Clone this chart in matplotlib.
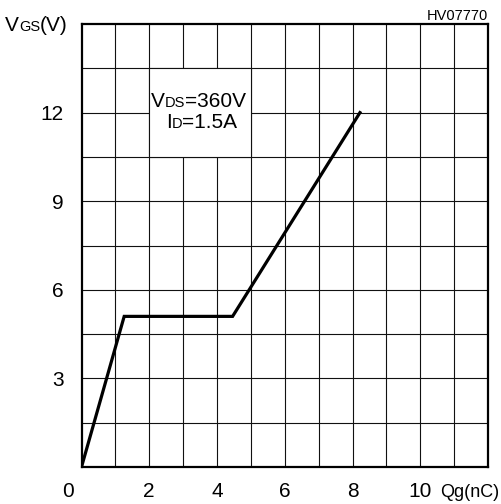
import numpy as np
import matplotlib
matplotlib.use("Agg")
import matplotlib.pyplot as plt
from matplotlib.patches import Rectangle

plt.rcParams['font.family'] = ['Liberation Sans', 'DejaVu Sans']

# ── 数据：栅极电荷曲线 ─────────────────────────────
qg_nc = [0, 1.26, 4.46, 8.22]
vgs_v = [0, 5.1, 5.1, 12.0]

x_ticks = [2, 4, 6, 8, 10]
y_ticks = [3, 6, 9, 12]

W, H = 501, 504
fig = plt.figure(figsize=(W / 100, H / 100), dpi=100)
ax = fig.add_axes([81.5 / W, 1 - 467 / H, (488 - 81.5) / W, (467 - 24) / H])

ax.set_xlim(0, 12)
ax.set_ylim(0, 15)

# 网格
for gx in np.arange(1, 12):
    ax.axvline(gx, color='#111111', lw=0.8, zorder=1)
for gy in np.arange(1.5, 15, 1.5):
    ax.axhline(gy, color='#111111', lw=0.8, zorder=1)

# 条件说明框（白底盖住网格）
ax.add_patch(Rectangle((2, 10.5), 3, 3, facecolor='white', edgecolor='#111111',
                       lw=0.8, zorder=2))

ax.plot(qg_nc, vgs_v, color='black', lw=2.3, solid_joinstyle='miter', zorder=3)

for s in ax.spines.values():
    s.set_linewidth(1.6)
ax.set_xticks(x_ticks)
ax.set_yticks(y_ticks)
ax.tick_params(length=0, labelsize=15, pad=11)
ax.tick_params(axis='y', pad=13)


def runs(x, y, parts):
    """按像素坐标（左上原点）逐段排字，用于小号下标"""
    renderer = fig.canvas.get_renderer()
    cx = x
    for s, size in parts:
        t = fig.text(cx / W, 1 - y / H, s, fontsize=size, va='baseline', ha='left')
        cx += t.get_window_extent(renderer).width


runs(5, 31, [("V", 15), ("GS", 10.5), ("(V)", 15)])
runs(151, 107, [("V", 15), ("DS", 10.5), ("=360V", 15)])
runs(166, 128, [("I", 15), ("D", 10.5), ("=1.5A", 15)])

fig.text(62 / W, 1 - 497 / H, "0", fontsize=15, va='baseline', ha='left')
fig.text(499 / W, 1 - 497 / H, "Qg(nC)", fontsize=13, va='baseline', ha='right')
fig.text(488 / W, 1 - 20 / H, "HV07770", fontsize=10.5, va='baseline', ha='right')

fig.savefig("out.png", dpi=100)
